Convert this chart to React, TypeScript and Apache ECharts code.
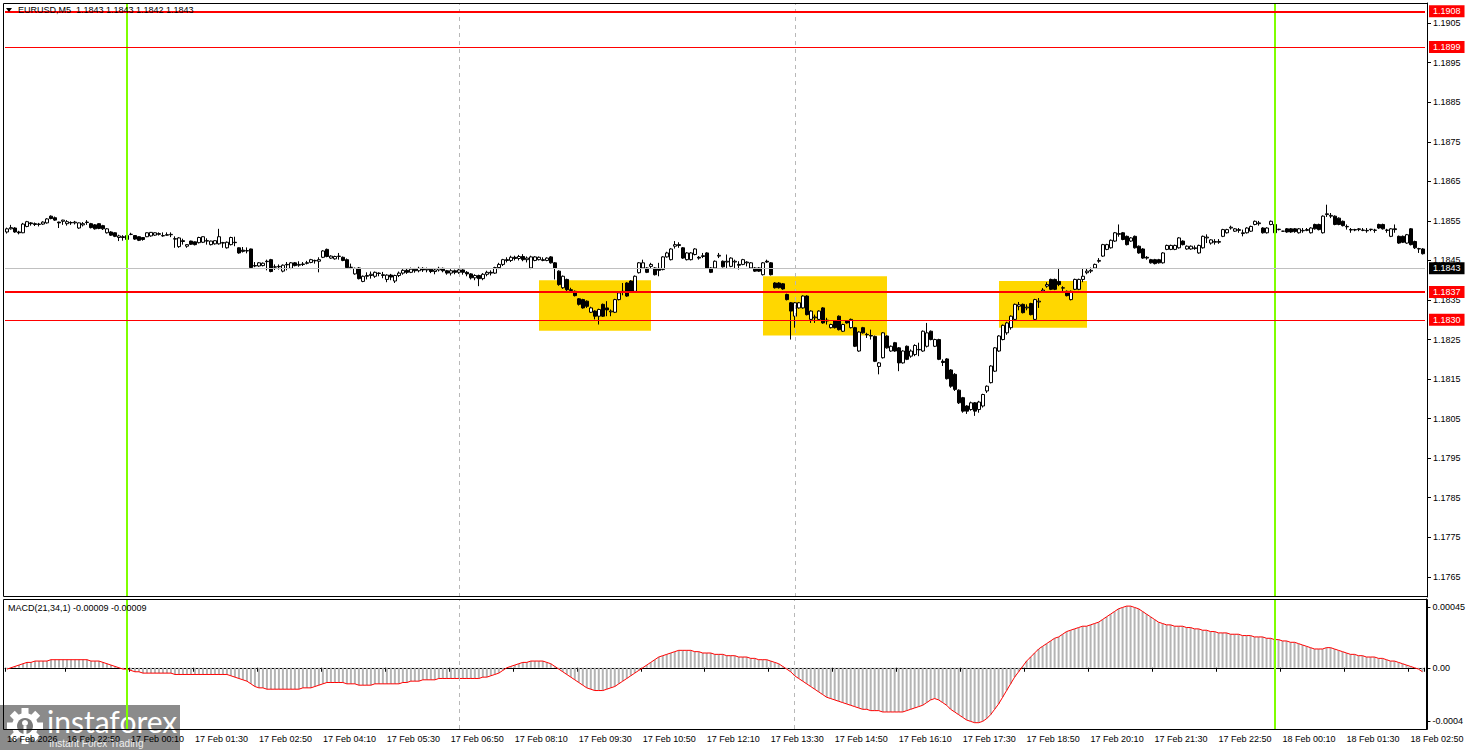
import React, { useEffect, useRef } from "react";
import * as echarts from "echarts";

// prices are stored in points (0.00001) above BASE
const BASE = 1.18;

const opens = [
  522,530,532,522,520,536,545,543,541,542,
  545,562,558,547,549,543,546,545,532,540,
  547,543,540,543,538,520,522,520,508,510,
  503,516,513,510,508,510,512,514,516,512,
  515,515,505,485,500,486,499,497,495,496,
  500,490,492,492,495,482,490,496,482,476,
  474,479,437,436,437,448,452,433,435,423,
  440,430,444,438,441,444,445,450,448,458,
  478,456,454,460,458,452,432,416,431,397,
  410,412,410,418,412,402,413,398,412,418,
  425,420,428,424,430,426,428,422,426,430,
  424,418,424,420,426,420,416,406,412,404,
  415,420,418,432,440,452,450,458,455,460,
  452,431,450,452,450,450,459,444,423,381,
  402,376,372,353,351,347,319,322,309,339,
  330,320,319,351,370,393,398,372,419,431,
  431,435,431,430,427,459,452,486,490,482,
  452,452,465,458,460,469,431,431,461,448,
  446,435,446,440,440,444,431,431,431,414,
  448,444,393,393,391,364,343,309,330,330,
  360,301,305,301,330,297,280,297,309,271,
  297,280,280,221,280,263,260,258,182,204,
  259,221,242,229,191,233,208,212,225,221,
  233,271,233,250,195,201,173,162,122,103,
  82,73,90,73,82,120,141,170,221,250,
  267,280,301,334,339,330,341,301,345,372,
  385,402,402,397,380,372,351,377,377,402,
  419,423,431,448,461,478,482,499,516,520,
  511,499,511,486,479,458,452,452,452,444,
  478,478,478,482,499,479,479,480,469,482,
  507,494,496,496,511,520,532,524,526,518,
  520,524,541,543,532,520,541,541,528,524,
  530,530,530,520,525,526,520,541,541,520,
  566,562,562,557,549,535,528,528,528,526,
  526,528,526,541,541,526,511,530,511,511,
  494,530,498,479,479,
];

const closes = [
  530,533,522,520,542,548,543,541,542,547,
  555,556,552,545,552,548,545,547,545,543,
  546,533,530,531,530,530,514,511,512,508,
  513,516,504,501,503,520,521,520,518,513,
  514,516,504,507,498,490,491,490,508,510,
  499,499,500,510,494,496,508,495,469,473,
  475,432,436,444,443,447,422,434,434,438,
  439,444,437,440,440,443,452,449,452,474,
  460,461,460,461,450,432,433,430,404,410,
  412,415,420,417,414,413,408,412,418,425,
  420,428,424,430,426,428,422,426,430,424,
  418,424,420,426,420,416,406,412,404,415,
  420,418,432,440,452,450,458,455,460,452,
  456,459,459,458,452,456,444,431,389,410,
  376,374,361,339,330,334,330,309,326,309,
  325,322,351,368,372,360,372,410,444,444,
  420,440,414,425,459,469,479,490,488,456,
  469,469,479,456,462,431,420,448,463,434,
  448,456,448,438,452,446,444,423,423,444,
  446,414,381,381,378,351,322,343,343,360,
  313,322,307,322,292,299,288,280,275,288,
  292,301,233,269,267,262,259,195,191,267,
  229,233,221,191,221,200,221,235,224,271,
  267,250,250,200,192,151,132,124,90,69,
  69,90,69,92,111,132,183,229,259,286,
  292,309,339,338,318,332,313,351,347,375,
  389,377,377,389,381,361,372,402,402,410,
  423,425,440,450,490,490,501,520,518,503,
  490,507,482,469,456,456,444,442,444,469,
  488,488,488,507,490,486,486,482,488,511,
  509,502,498,498,528,528,534,530,528,520,
  532,536,549,545,520,532,549,520,529,524,
  522,522,523,530,526,528,532,530,528,562,
  568,564,541,541,538,536,527,527,530,527,
  525,529,527,532,530,527,530,528,494,496,
  515,490,482,480,467,
];

const highs = [
  533,540,534,525,545,550,547,546,545,549,
  557,564,561,548,553,552,549,550,546,547,
  552,545,542,544,540,532,524,521,515,514,
  515,520,514,511,509,521,522,521,521,521,
  521,521,511,509,505,491,500,498,510,511,
  506,500,501,530,497,498,510,510,483,484,
  483,480,446,446,445,452,454,440,440,440,
  446,446,446,448,446,449,454,452,458,476,
  480,463,462,469,460,455,442,432,433,412,
  420,422,422,420,421,415,416,414,422,428,
  430,432,431,434,433,432,430,429,434,432,
  426,428,427,430,428,423,418,415,414,418,
  424,425,434,444,454,458,462,462,464,466,
  460,462,461,460,458,458,461,446,425,412,
  404,381,374,355,353,349,333,324,328,341,
  347,326,353,370,393,395,400,412,446,452,
  433,444,433,444,461,472,481,499,496,484,
  471,471,481,461,469,471,433,450,469,450,
  465,458,452,448,454,448,446,433,433,446,
  452,446,395,395,393,366,345,345,345,362,
  362,324,313,324,332,305,290,299,311,290,
  299,303,282,271,282,267,275,260,193,269,
  261,235,244,231,223,235,225,238,242,273,
  292,273,252,252,200,203,175,165,124,105,
  84,93,92,95,113,134,185,231,261,288,
  295,311,341,345,341,339,343,353,355,380,
  395,404,404,431,385,374,374,404,404,431,
  430,432,442,456,492,492,503,522,541,522,
  513,509,513,488,481,461,454,454,454,471,
  490,490,490,509,501,488,488,488,490,513,
  516,504,504,504,530,530,538,532,532,528,
  534,538,551,550,534,534,551,543,530,525,
  532,532,532,532,532,532,534,543,543,564,
  591,570,564,559,551,541,532,530,532,532,
  532,530,530,543,543,530,532,541,513,513,
  517,532,500,482,481,
];

const lows = [
  518,528,520,516,519,534,538,537,536,540,
  543,554,550,532,540,538,540,541,530,536,
  540,531,528,529,527,518,512,509,499,500,
  501,514,502,499,500,509,510,512,513,510,
  513,509,482,482,490,482,489,488,493,494,
  490,488,490,490,482,480,488,486,467,470,
  468,430,433,434,435,425,420,426,427,420,
  425,428,435,434,436,440,443,442,420,456,
  458,454,452,452,448,430,428,414,402,395,
  402,404,406,410,405,395,400,393,408,414,
  416,418,419,420,421,420,418,415,422,420,
  414,412,415,416,414,410,402,400,385,400,
  410,412,416,428,436,445,446,450,450,448,
  445,428,448,450,448,448,442,402,386,378,
  373,368,359,336,328,330,317,301,288,307,
  309,309,317,349,362,358,370,370,417,430,
  418,431,412,410,425,457,450,480,482,454,
  450,450,463,452,456,429,418,429,456,432,
  431,433,431,427,438,435,429,421,421,412,
  444,412,379,379,376,349,250,280,328,328,
  311,292,292,299,290,288,278,278,273,269,
  290,278,231,219,265,254,250,193,162,202,
  227,219,219,170,189,198,204,208,208,219,
  230,248,231,198,183,149,128,120,87,65,
  62,70,57,65,78,115,139,168,219,248,
  262,275,299,324,316,324,311,299,330,368,
  381,375,375,385,372,359,349,375,375,395,
  415,418,429,444,459,476,480,497,510,501,
  488,497,480,467,454,452,442,440,442,442,
  476,476,476,480,488,477,477,477,467,480,
  494,490,490,492,509,518,528,522,520,511,
  518,522,539,538,518,518,539,518,526,523,
  520,520,520,518,520,524,518,528,526,518,
  560,557,539,539,536,528,520,524,524,524,
  520,524,520,530,528,520,509,520,492,494,
  492,488,479,469,465,
];

// MACD(21,34,1) main value per bar, in units of 0.00001
const macd = [
  -1,0,1,2,3,4,4,5,5,5,
  5,6,6,6,6,6,6,6,6,6,
  6,5,5,5,4,3,2,1,0,-1,
  -1,-2,-3,-3,-4,-4,-4,-4,-4,-4,
  -4,-4,-5,-5,-5,-5,-5,-5,-5,-5,
  -5,-5,-5,-5,-5,-5,-6,-7,-8,-9,
  -10,-12,-14,-15,-15,-16,-16,-16,-16,-16,
  -16,-16,-16,-16,-15,-15,-15,-14,-13,-12,
  -11,-11,-11,-11,-11,-12,-12,-12,-13,-13,
  -13,-13,-12,-12,-12,-12,-12,-12,-12,-11,
  -11,-10,-10,-10,-9,-9,-9,-9,-8,-8,
  -8,-8,-8,-8,-8,-8,-8,-8,-8,-7,
  -7,-6,-5,-4,-2,0,1,2,3,4,
  4,5,5,5,5,4,3,1,-1,-3,
  -5,-7,-9,-11,-13,-15,-16,-17,-17,-17,
  -16,-15,-14,-12,-10,-8,-6,-4,-2,0,
  2,4,6,8,9,10,11,12,13,13,
  13,13,12,12,11,11,11,10,10,10,
  9,9,9,8,8,8,7,7,6,6,
  6,5,4,3,1,-1,-3,-6,-8,-10,
  -12,-14,-16,-18,-20,-22,-23,-24,-25,-26,
  -27,-28,-29,-30,-31,-31,-32,-32,-32,-33,
  -33,-33,-33,-33,-33,-32,-31,-30,-29,-28,
  -26,-24,-23,-24,-26,-28,-31,-33,-35,-37,
  -39,-40,-41,-41,-40,-38,-35,-31,-27,-22,
  -17,-12,-7,-3,1,5,8,11,14,16,
  18,20,22,23,25,27,28,29,30,31,
  31,32,33,34,36,38,40,42,44,45,
  46,46,45,44,42,40,38,36,34,33,
  32,32,31,31,31,30,30,29,29,28,
  28,27,27,26,26,26,25,25,25,24,
  24,24,23,23,23,22,22,21,21,20,
  20,19,19,18,17,16,15,14,14,14,
  15,15,14,13,12,11,10,10,9,9,
  8,8,8,7,7,6,5,5,4,3,
  2,1,0,-1,-3,
];

const tickBars = [0, 15, 31, 47, 63, 79, 95, 111, 127, 143, 159, 175, 191, 207, 223, 239, 255, 271, 287, 303, 319, 335, 351];
const tickLabels = [
  "16 Feb 2026", "16 Feb 22:50", "17 Feb 00:10", "17 Feb 01:30", "17 Feb 02:50", "17 Feb 04:10",
  "17 Feb 05:30", "17 Feb 06:50", "17 Feb 08:10", "17 Feb 09:30", "17 Feb 10:50", "17 Feb 12:10",
  "17 Feb 13:30", "17 Feb 14:50", "17 Feb 16:10", "17 Feb 17:30", "17 Feb 18:50", "17 Feb 20:10",
  "17 Feb 21:30", "17 Feb 22:50", "18 Feb 00:10", "18 Feb 01:30", "18 Feb 02:50",
];
const priceTicks = [1.1765, 1.1775, 1.1785, 1.1795, 1.1805, 1.1815, 1.1825, 1.1835, 1.1845, 1.1855, 1.1865, 1.1875, 1.1885, 1.1895, 1.1905];
const macdTicks = [-0.0004, 0, 0.00045];
const macdTickLabels = ["-0.0004", "0.00", "0.00045"];

const thickLevels = [1.1908, 1.1837];
const thinLevels = [1.1899, 1.183];
const currentPrice = 1.1843;
// [firstBar, lastBar, topPrice, bottomPrice]
const zones = [
  [133, 161, 1.184, 1.18272],
  [189, 220, 1.1841, 1.1826],
  [248, 270, 1.18398, 1.1828],
];
const dayBars = [30, 317];
const sessionBars = [113, 197];

const headerText = "EURUSD,M5  1.1843 1.1843 1.1842 1.1843";
const macdText = "MACD(21,34,1) -0.00009 -0.00009";

const FONT = '"Liberation Sans", Arial, sans-serif';

export default function App() {
  const ref = useRef<HTMLDivElement>(null);

  useEffect(() => {
    const chart = echarts.init(ref.current!, null, { renderer: "svg" });
    const toPrice = (v: number) => +(BASE + v / 100000).toFixed(5);
    const categories = closes.map((_, i) => String(i));
    const candleData = opens.map((o, i) => [toPrice(o), toPrice(closes[i]), toPrice(lows[i]), toPrice(highs[i])]);
    const macdData = macd.map((v) => +(v / 100000).toFixed(5));
    const labelMap: Record<number, string> = {};
    tickBars.forEach((b, k) => (labelMap[b] = tickLabels[k]));
    const isTick = (i: number) => labelMap[i] !== undefined;

    const levelLabel = (bg: string) => ({
      show: true,
      position: "end" as const,
      distance: 4,
      formatter: (p: any) => Number(p.value).toFixed(4),
      color: "#ffffff",
      backgroundColor: bg,
      padding: [2, 4, 1, 4],
      fontSize: 9,
      fontFamily: FONT,
    });

    const verticalLines = [
      ...dayBars.map((b) => ({ xAxis: String(b), lineStyle: { color: "#7fff00", width: 2, type: "solid" } })),
      ...sessionBars.map((b) => ({ xAxis: String(b), lineStyle: { color: "#b8b8b8", width: 1, type: [4, 4] } })),
    ];

    const option: any = {
      animation: false,
      backgroundColor: "#ffffff",
      grid: [
        { left: 5, top: 3, width: 1420, height: 594 },
        { left: 5, top: 599, width: 1420, height: 130 },
      ],
      xAxis: [
        {
          type: "category", gridIndex: 0, data: categories, boundaryGap: true,
          axisLine: { show: false }, axisTick: { show: false }, axisLabel: { show: false }, splitLine: { show: false },
        },
        {
          type: "category", gridIndex: 1, data: categories, boundaryGap: true,
          axisLine: { show: true, lineStyle: { color: "#000", width: 1 } },
          axisTick: { show: true, length: 4, interval: (i: number) => isTick(i), lineStyle: { color: "#000" } },
          axisLabel: {
            show: true, interval: (i: number) => isTick(i), formatter: (_v: string, i: number) => labelMap[i] ?? "",
            align: "left", margin: 5, fontSize: 9, fontFamily: FONT, color: "#000",
          },
          splitLine: { show: false },
        },
      ],
      yAxis: [
        {
          type: "value", gridIndex: 0, position: "right", min: 1.17599, max: 1.19101, offset: 2, scale: true,
          axisLine: { show: true, lineStyle: { color: "#000" } },
          axisTick: { show: true, length: 4, customValues: priceTicks, lineStyle: { color: "#000" } },
          axisLabel: { customValues: priceTicks, formatter: (v: number) => v.toFixed(4), margin: 6, fontSize: 9, fontFamily: FONT, color: "#000" },
          splitLine: { show: false },
        },
        {
          type: "value", gridIndex: 1, position: "right", min: -0.000457, max: 0.000513, offset: 2,
          axisLine: { show: true, lineStyle: { color: "#000" } },
          axisTick: { show: true, length: 4, customValues: macdTicks, lineStyle: { color: "#000" } },
          axisLabel: {
            customValues: macdTicks,
            formatter: (v: number) => { const k = macdTicks.findIndex((t) => Math.abs(t - v) < 1e-9); return k >= 0 ? macdTickLabels[k] : ""; },
            margin: 6, fontSize: 9, fontFamily: FONT, color: "#000",
          },
          splitLine: { show: false },
        },
      ],
      series: [
        {
          type: "line", xAxisIndex: 0, yAxisIndex: 0, data: [], z: 1, silent: true,
          markArea: {
            silent: true,
            itemStyle: { color: "#ffd700", opacity: 1 },
            data: zones.map((zn) => [{ xAxis: String(zn[0]), yAxis: zn[2] }, { xAxis: String(zn[1]), yAxis: zn[3] }]),
          },
        },
        {
          type: "candlestick", xAxisIndex: 0, yAxisIndex: 0, data: candleData, barWidth: 3, z: 2,
          itemStyle: { color: "#ffffff", color0: "#000000", borderColor: "#000000", borderColor0: "#000000", borderWidth: 1 },
        },
        {
          type: "line", xAxisIndex: 0, yAxisIndex: 0, data: [], z: 3, silent: true,
          markLine: {
            silent: true, symbol: "none", animation: false, precision: 5,
            data: [
              ...verticalLines.map((d) => ({ ...d, label: { show: false } })),
              { yAxis: currentPrice, lineStyle: { color: "#c0c0c0", width: 1, type: "solid" }, label: levelLabel("#000000") },
              ...thinLevels.map((v) => ({ yAxis: v, lineStyle: { color: "#ff0000", width: 1, type: "solid" }, label: levelLabel("#ff0000") })),
              ...thickLevels.map((v) => ({ yAxis: v, lineStyle: { color: "#ff0000", width: 2, type: "solid" }, label: levelLabel("#ff0000") })),
            ],
          },
        },
        {
          type: "bar", xAxisIndex: 1, yAxisIndex: 1, data: macdData, barWidth: 2, z: 2,
          itemStyle: { color: "#b4b4b4" }, silent: true,
          markLine: {
            silent: true, symbol: "none", animation: false,
            data: verticalLines.map((d) => ({ ...d, label: { show: false } })),
          },
        },
        {
          type: "line", xAxisIndex: 1, yAxisIndex: 1, data: macdData, symbol: "none", z: 3, silent: true,
          lineStyle: { color: "#ff0000", width: 1 },
        },
      ],
      graphic: [
        { type: "rect", z: 50, silent: true, shape: { x: 3.5, y: 3.5, width: 1424, height: 593 }, style: { fill: "none", stroke: "#000", lineWidth: 1 } },
        { type: "rect", z: 50, silent: true, shape: { x: 3.5, y: 599.5, width: 1424, height: 130 }, style: { fill: "none", stroke: "#000", lineWidth: 1 } },
        { type: "polygon", z: 50, silent: true, shape: { points: [[6, 8], [12, 8], [9, 12]] }, style: { fill: "#000" } },
        { type: "text", z: 50, silent: true, x: 18, y: 5, style: { text: headerText, font: `9px ${FONT}`, fill: "#000" } },
        { type: "text", z: 50, silent: true, x: 8, y: 603, style: { text: macdText, font: `9px ${FONT}`, fill: "#000" } },
        {
          type: "group", z: 100, silent: true, x: 0, y: 0,
          children: [
            { type: "rect", shape: { x: 0, y: 705, width: 180, height: 45 }, style: { fill: "rgba(110,110,110,0.8)" } },
            {
              type: "group", x: 25, y: 726,
              children: [
                ...[0, 1, 2, 3, 4, 5, 6, 7].map((k) => ({
                  type: "rect", rotation: (k * Math.PI) / 4, shape: { x: -3.5, y: -18, width: 7, height: 8 }, style: { fill: "#ffffff" },
                })),
                { type: "circle", shape: { cx: 0, cy: 0, r: 13 }, style: { fill: "#ffffff" } },
                { type: "circle", shape: { cx: 0, cy: 0, r: 8 }, style: { fill: "#7a7a7a" } },
                { type: "circle", shape: { cx: 0, cy: -3, r: 3 }, style: { fill: "#ffffff" } },
                { type: "rect", shape: { x: -1.5, y: 0, width: 3, height: 8 }, style: { fill: "#ffffff" } },
              ],
            },
            { type: "text", x: 47, y: 706, style: { text: "instaforex", font: '30px Lato, sans-serif', fill: "#ffffff" } },
            { type: "text", x: 49, y: 738, style: { text: "Instant Forex Trading", font: `10px ${FONT}`, fill: "#eeeeee" } },
          ],
        },
      ],
    };

    chart.setOption(option);
    return () => chart.dispose();
  }, []);

  return (
    <div
      ref={ref}
      style={{ position: "fixed", left: 0, top: 0, width: 1468, height: 750, background: "#ffffff" }}
    />
  );
}
